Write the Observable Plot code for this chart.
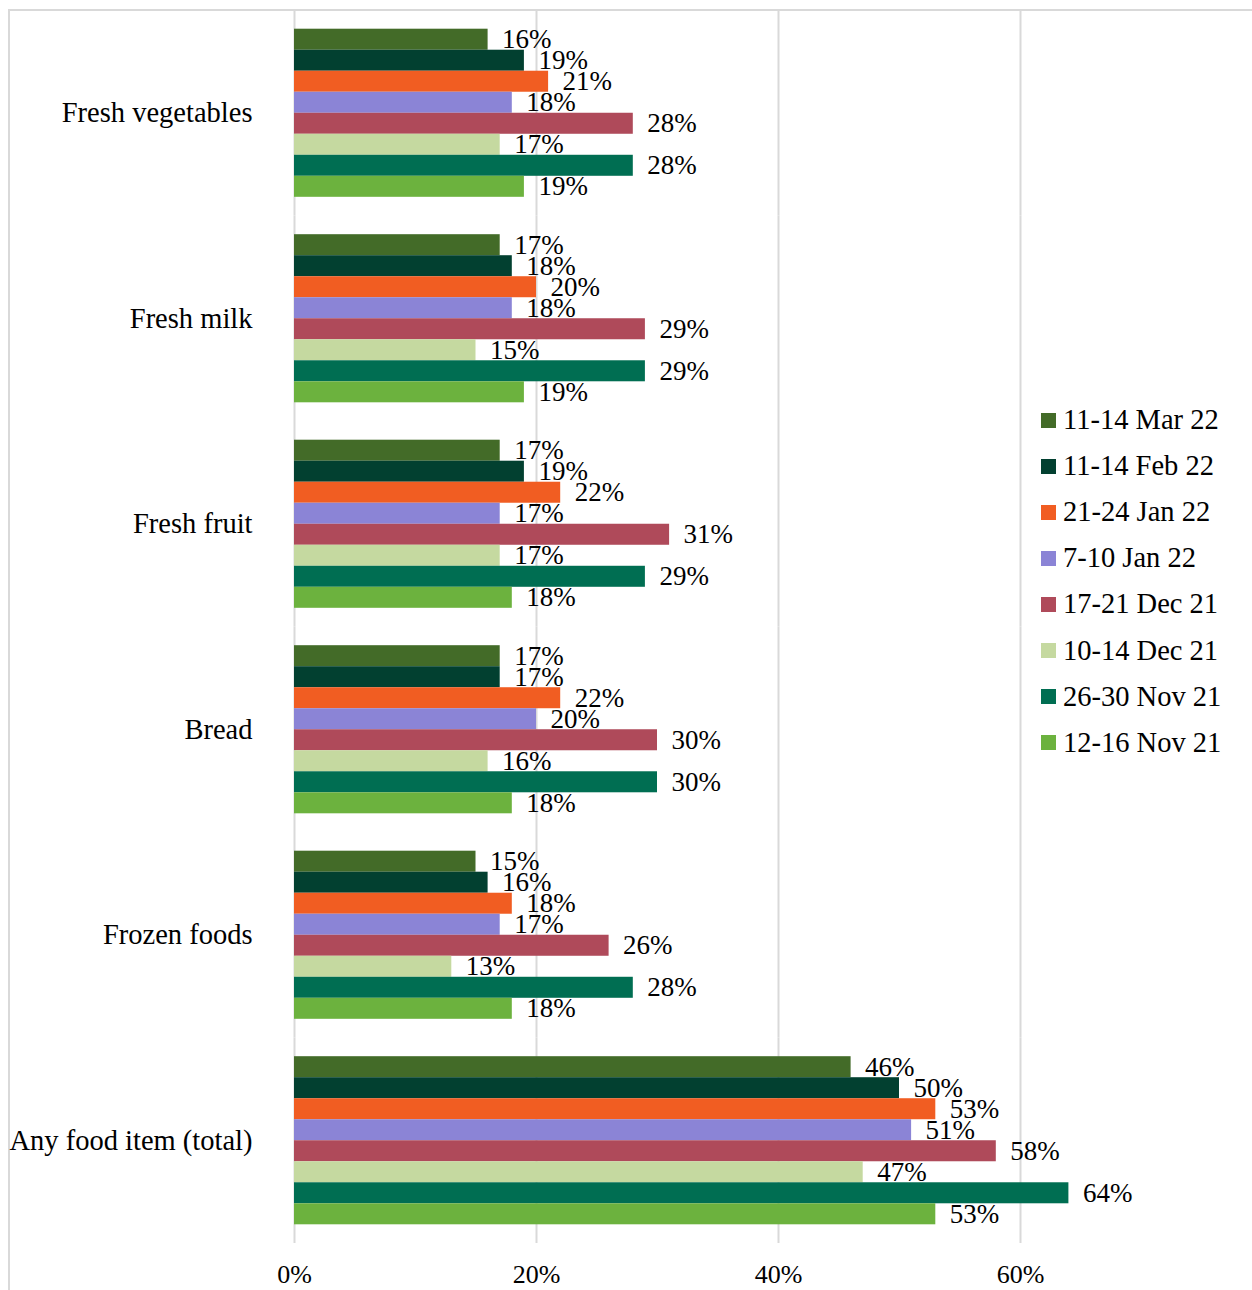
<!DOCTYPE html>
<html><head><meta charset="utf-8">
<script src="https://cdn.jsdelivr.net/npm/d3@7"></script>
<script src="https://cdn.jsdelivr.net/npm/@observablehq/plot@0.6"></script>
<style>
body{margin:0;background:#fff;font-family:"Liberation Serif","Times New Roman",serif;}
#frame{position:absolute;left:8px;top:9px;width:1300px;height:1300px;border-left:2px solid #d9d9d9;border-top:2px solid #d9d9d9;}
#chart{position:absolute;left:0;top:0;}
#legend{position:absolute;left:1041px;top:397px;font-size:28.5px;color:#000;}
.item{display:flex;align-items:center;height:46.1px;white-space:nowrap;}
.sw{width:15px;height:15px;margin-right:7px;flex:none;}
</style></head><body>
<div id="frame"></div><div id="chart"></div><div id="legend"></div>
<script>
const categories = ["Fresh vegetables", "Fresh milk", "Fresh fruit", "Bread", "Frozen foods", "Any food item (total)"];
const series = ["11-14 Mar 22", "11-14 Feb 22", "21-24 Jan 22", "7-10 Jan 22", "17-21 Dec 21", "10-14 Dec 21", "26-30 Nov 21", "12-16 Nov 21"];
const colors = ["#436b28", "#024030", "#f15d22", "#8b84d6", "#af4a5a", "#c5d9a0", "#006e52", "#6cb23e"];
const freshVegetables = [16, 19, 21, 18, 28, 17, 28, 19];
const freshMilk = [17, 18, 20, 18, 29, 15, 29, 19];
const freshFruit = [17, 19, 22, 17, 31, 17, 29, 18];
const bread = [17, 17, 22, 20, 30, 16, 30, 18];
const frozenFoods = [15, 16, 18, 17, 26, 13, 28, 18];
const anyFoodTotal = [46, 50, 53, 51, 58, 47, 64, 53];
const xTicks = [0, 0.2, 0.4, 0.6];

const valuesByCategory = [freshVegetables, freshMilk, freshFruit, bread, frozenFoods, anyFoodTotal];
const rows = [];
categories.forEach((c, i) => valuesByCategory[i].forEach((v, j) => rows.push({category: c, series: series[j], value: v / 100})));
const pct = d => Math.round(d * 100) + "%";
const font = '"Liberation Serif","Times New Roman",serif';

const chart = Plot.plot({
  width: 1252, height: 1290,
  marginLeft: 294, marginRight: 232, marginTop: 10, marginBottom: 47,
  style: {fontFamily: font, fontSize: "27px", color: "black", background: "transparent", overflow: "visible"},
  x: {domain: [0, 0.6], label: null},
  y: {domain: series, paddingInner: 0, paddingOuter: 0.89, round: false, axis: null},
  fy: {domain: categories, padding: 0, round: false, label: null, axis: null},
  color: {domain: series, range: colors},
  marks: [
    Plot.ruleX(xTicks, {stroke: "#d9d9d9", strokeWidth: 2}),
    Plot.barX(rows, {x: "value", y: "series", fy: "category", fill: "series"}),
    Plot.text(rows, {x: "value", y: "series", fy: "category", text: d => pct(d.value), textAnchor: "start", dx: 14, fill: "black", fontSize: 27}),
    Plot.axisFy({anchor: "left", tickSize: 0, tickPadding: 42, label: null, fontSize: 28.5}),
    Plot.axisX({ticks: xTicks, tickFormat: pct, tickSize: 0, tickPadding: 21, label: null, fontSize: 26})
  ]
});
document.getElementById("chart").appendChild(chart);

const legend = document.getElementById("legend");
series.forEach((s, i) => {
  const item = document.createElement("div");
  item.className = "item";
  const sw = document.createElement("span");
  sw.className = "sw";
  sw.style.background = colors[i];
  const t = document.createElement("span");
  t.textContent = s;
  item.appendChild(sw); item.appendChild(t);
  legend.appendChild(item);
});
</script>
</body></html>
